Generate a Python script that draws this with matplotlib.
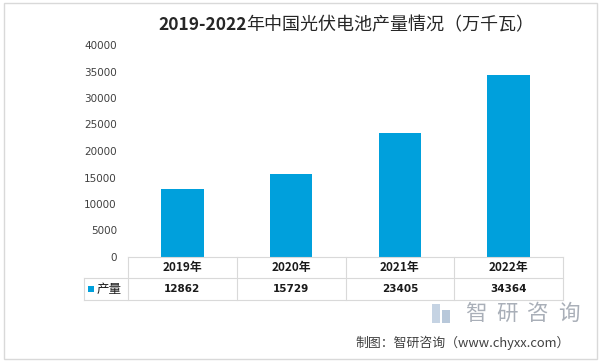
import matplotlib
matplotlib.use("Agg")
import matplotlib.pyplot as plt
from matplotlib.patches import Rectangle
from matplotlib.lines import Line2D

plt.rcParams['font.family'] = ['Noto Sans CJK SC', 'DejaVu Sans']

years = ['2019年', '2020年', '2021年', '2022年']
values = [12862, 15729, 23405, 34364]
series_name = '产量'
title_num = '2019-2022'
title_txt = '年中国光伏电池产量情况（万千瓦）'
source = '制图：智研咨询（www.chyxx.com）'
yticks = [0, 5000, 10000, 15000, 20000, 25000, 30000, 35000, 40000]

W, H = 601, 364
fig = plt.figure(figsize=(W / 100, H / 100), dpi=100)

def fx(px):
    return px / W

def fy(py):
    return 1 - py / H

# figure border
fig.patches.append(Rectangle((fx(4), fy(359)), fx(597) - fx(4), fy(3) - fy(359),
                             transform=fig.transFigure, fill=False,
                             edgecolor='#D9D9D9', linewidth=1.0))

ax_left, ax_right, ax_top, ax_bot = 128, 563, 45, 257
ax = fig.add_axes([fx(ax_left), fy(ax_bot), fx(ax_right) - fx(ax_left), fy(ax_top) - fy(ax_bot)])

color = '#00A0DC'
x = list(range(len(years)))
ax.bar(x, values, width=0.39, color=color, zorder=2)
ax.set_xlim(-0.5, len(years) - 0.5)
ax.set_ylim(0, 40000)
ax.set_yticks(yticks)
ax.set_yticklabels([str(v) for v in yticks], fontsize=7.5, color='#404040',
                   family=['DejaVu Sans'])
ax.tick_params(axis='y', length=0, pad=8)
ax.set_xticks([])
for s in ax.spines.values():
    s.set_visible(False)

# data table drawn below the axes (x in data units, y in axes fraction)
tr = ax.get_xaxis_transform()
axh = ax_bot - ax_top
y_mid = -(278 - ax_bot) / axh
y_low = -(300 - ax_bot) / axh
lab_left = -0.5 - (ax_left - 84) / ((ax_right - ax_left) / len(years))
n = len(years)
lc = '#D9D9D9'
lw = 0.8

def hline(x0, x1, y):
    ax.add_line(Line2D([x0, x1], [y, y], transform=tr, color=lc, lw=lw, clip_on=False))

def vline(xv, y0, y1):
    ax.add_line(Line2D([xv, xv], [y0, y1], transform=tr, color=lc, lw=lw, clip_on=False))

hline(-0.5, n - 0.5, 0)
hline(lab_left, n - 0.5, y_mid)
hline(lab_left, n - 0.5, y_low)
vline(lab_left, y_mid, y_low)
for i in range(n + 1):
    vline(i - 0.5, 0, y_low)

for i, (yr, v) in enumerate(zip(years, values)):
    ax.text(i, y_mid / 2, yr, transform=tr, ha='center', va='center',
            fontsize=8.5, fontweight='bold', color='#1a1a1a')
    ax.text(i, (y_mid + y_low) / 2, str(v), transform=tr, ha='center', va='center',
            fontsize=7.5, fontweight='bold', color='#1a1a1a',
            family=['DejaVu Sans'])

# legend key + series label
ax.add_patch(Rectangle((lab_left + 0.04, (y_mid + y_low) / 2 - 0.014), 0.05, 0.028,
                       transform=tr, facecolor=color, edgecolor='none', clip_on=False))
ax.text(lab_left + 0.12, (y_mid + y_low) / 2, series_name, transform=tr,
        ha='left', va='center', fontsize=9, color='#1a1a1a')

# title: bold digits, regular Chinese
t1 = fig.text(fx(158), fy(25), title_num, ha='left', va='center', fontsize=12.5,
              fontweight='bold', color='#262626')
fig.canvas.draw()
bb = t1.get_window_extent()
fig.text(bb.x1 / W, fy(25), title_txt, ha='left', va='center', fontsize=13,
         color='#262626')

# watermark logo
fig.patches.append(Rectangle((fx(432), fy(323)), fx(440) - fx(432), fy(304) - fy(323),
                             transform=fig.transFigure, facecolor='#C5D3E3', edgecolor='none'))
fig.patches.append(Rectangle((fx(442), fy(323)), fx(450) - fx(442), fy(310) - fy(323),
                             transform=fig.transFigure, facecolor='#B8C8DA', edgecolor='none'))
for i, ch in enumerate('智研咨询'):
    fig.text(fx(476 + i * 31), fy(314), ch, ha='center', va='center',
             fontsize=15.5, color='#A9AFB8')

# source
fig.text(fx(570), fy(343), source, ha='right', va='center', fontsize=9.3, color='#404040')

fig.savefig('out.png', dpi=100)
